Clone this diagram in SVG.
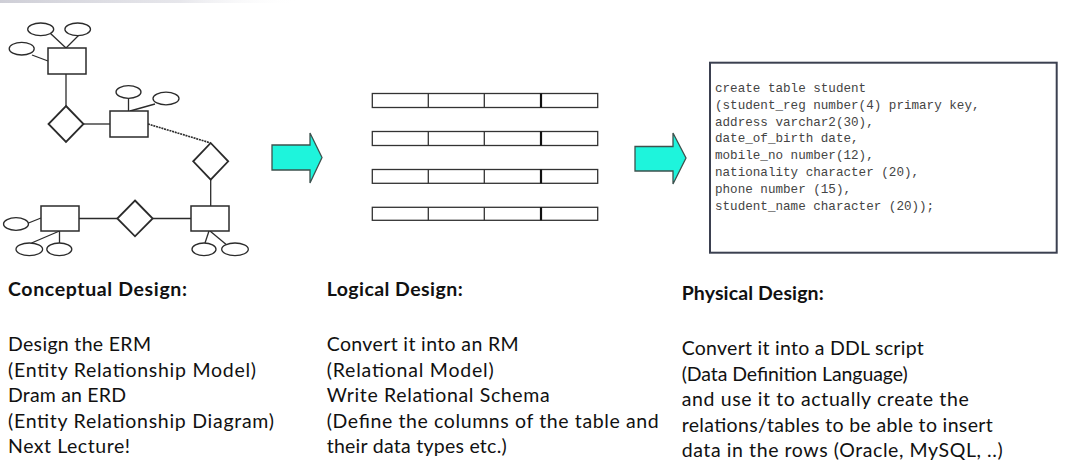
<svg xmlns="http://www.w3.org/2000/svg" width="1080" height="464" viewBox="0 0 1080 464">
<defs>
<linearGradient id="topband" x1="0" y1="0" x2="1" y2="0">
<stop offset="0" stop-color="#c9c9d2" stop-opacity="0.9"/>
<stop offset="0.6" stop-color="#d6d6de" stop-opacity="0.6"/>
<stop offset="1" stop-color="#ffffff" stop-opacity="0"/>
</linearGradient>
</defs>
<style>
.ent{fill:#fff;stroke:#2b2b2b;stroke-width:1.5}
.rel{fill:#fff;stroke:#2b2b2b;stroke-width:1.8}
.att{fill:#fff;stroke:#2b2b2b;stroke-width:1.3}
.ln{stroke:#2b2b2b;stroke-width:1.3;fill:none}
.dash{stroke:#2b2b2b;stroke-width:1.6;stroke-dasharray:2 0.8;fill:none}
.row{fill:#fff;stroke:#333;stroke-width:1.3}
.div{stroke:#333;stroke-width:1.3}
.div2{stroke:#111;stroke-width:2.2}
.arrow{fill:#1ef4dc;stroke:#3d524e;stroke-width:1.3}
.code{font-family:"Liberation Mono","Courier New",monospace;font-size:12.6px;fill:#444}
.head{font-family:Lato,"Liberation Sans",sans-serif;font-size:19.5px;font-weight:bold;fill:#111}
.body{font-family:Lato,"Liberation Sans",sans-serif;font-size:19.5px;fill:#111}
</style>
<rect x="0" y="0" width="1080" height="464" fill="#fff"/>
<rect x="0" y="0" width="300" height="3" fill="url(#topband)"/>

<g id="connectors">
<line class="ln" x1="50" y1="33" x2="66" y2="48"/>
<line class="ln" x1="79" y1="35" x2="66" y2="48"/>
<line class="ln" x1="32" y1="55" x2="48" y2="61"/>
<line class="ln" x1="66" y1="74" x2="66" y2="106"/>
<line class="ln" x1="83.5" y1="124" x2="110" y2="124"/>
<line class="ln" x1="128.5" y1="98.5" x2="128.5" y2="111"/>
<line class="ln" x1="155" y1="104" x2="130" y2="111"/>
<line class="dash" x1="148" y1="124" x2="210.7" y2="143"/>
<line class="ln" x1="210.7" y1="179.7" x2="210.7" y2="206"/>
<line class="ln" x1="191" y1="218.5" x2="152.7" y2="218.5"/>
<line class="ln" x1="117.3" y1="218.5" x2="79" y2="218.5"/>
<line class="ln" x1="28.5" y1="223" x2="41" y2="218"/>
<line class="ln" x1="59.5" y1="231" x2="59.5" y2="243"/>
<line class="ln" x1="59.5" y1="231" x2="31.5" y2="243"/>
<line class="ln" x1="209" y1="231" x2="205" y2="243"/>
<line class="ln" x1="210" y1="231" x2="228" y2="246"/>
</g>

<g id="entity1"><rect class="ent" x="48" y="48" width="38" height="26"/></g>
<g id="entity1-attrs">
<ellipse class="att" cx="40.7" cy="29.3" rx="13" ry="6.3"/>
<ellipse class="att" cx="77.7" cy="29.3" rx="12.8" ry="6.3"/>
<ellipse class="att" cx="21.7" cy="48.7" rx="12.5" ry="6.3"/>
</g>
<g id="rel1"><polygon class="rel" points="66,106 83.5,124 66,142 48.5,124"/></g>
<g id="entity2"><rect class="ent" x="110" y="111" width="38" height="26"/></g>
<g id="entity2-attrs">
<ellipse class="att" cx="128.5" cy="92" rx="12.5" ry="6.3"/>
<ellipse class="att" cx="166" cy="98.5" rx="13" ry="6.3"/>
</g>
<g id="rel2"><polygon class="rel" points="210.7,143 228.2,161.3 210.7,179.7 193.2,161.3"/></g>
<g id="entity3"><rect class="ent" x="191" y="206" width="38" height="25"/></g>
<g id="entity3-attrs">
<ellipse class="att" cx="204" cy="249.3" rx="12" ry="6.3"/>
<ellipse class="att" cx="235" cy="249.3" rx="13.3" ry="6.3"/>
</g>
<g id="rel3"><polygon class="rel" points="135,200.5 152.7,218.5 135,236.3 117.3,218.5"/></g>
<g id="entity4"><rect class="ent" x="41" y="206" width="38" height="25"/></g>
<g id="entity4-attrs">
<ellipse class="att" cx="16" cy="224" rx="12.5" ry="6.3"/>
<ellipse class="att" cx="29.3" cy="249.3" rx="13.3" ry="6.3"/>
<ellipse class="att" cx="59.3" cy="249.3" rx="12.5" ry="6.3"/>
</g>

<g id="arrow1"><polygon class="arrow" points="272,145 310,145 310,133 322,157.5 310,183 310,170 272,170"/></g>

<g id="tables">
<g id="table-row1">
<rect class="row" x="372.3" y="93.5" width="225.4" height="14"/>
<line class="div" x1="428.3" y1="93.5" x2="428.3" y2="107.5"/>
<line class="div" x1="484.3" y1="93.5" x2="484.3" y2="107.5"/>
<line class="div2" x1="541" y1="93.5" x2="541" y2="107.5"/>
</g>
<g id="table-row2">
<rect class="row" x="372.3" y="131.5" width="225.4" height="14"/>
<line class="div" x1="428.3" y1="131.5" x2="428.3" y2="145.5"/>
<line class="div" x1="484.3" y1="131.5" x2="484.3" y2="145.5"/>
<line class="div2" x1="541" y1="131.5" x2="541" y2="145.5"/>
</g>
<g id="table-row3">
<rect class="row" x="372.3" y="169.5" width="225.4" height="13.8"/>
<line class="div" x1="428.3" y1="169.5" x2="428.3" y2="183.3"/>
<line class="div" x1="484.3" y1="169.5" x2="484.3" y2="183.3"/>
<line class="div2" x1="541" y1="169.5" x2="541" y2="183.3"/>
</g>
<g id="table-row4">
<rect class="row" x="372.3" y="207.3" width="225.4" height="13"/>
<line class="div" x1="428.3" y1="207.3" x2="428.3" y2="220.3"/>
<line class="div" x1="484.3" y1="207.3" x2="484.3" y2="220.3"/>
<line class="div2" x1="541" y1="207.3" x2="541" y2="220.3"/>
</g>
</g>

<g id="arrow2"><polygon class="arrow" points="635,146.5 673,146.5 673,133 686,158 673,184 673,171 635,171"/></g>

<g id="ddl-box">
<rect x="710" y="62.7" width="346.7" height="190" fill="#fff" stroke="#3b4050" stroke-width="2"/>
<text class="code" x="715" y="92">create table student</text>
<text class="code" x="715" y="108.8">(student_reg number(4) primary key,</text>
<text class="code" x="715" y="125.6">address varchar2(30),</text>
<text class="code" x="715" y="142.4">date_of_birth date,</text>
<text class="code" x="715" y="159.2">mobile_no number(12),</text>
<text class="code" x="715" y="176">nationality character (20),</text>
<text class="code" x="715" y="192.8">phone number (15),</text>
<text class="code" x="715" y="209.6">student_name character (20));</text>
</g>

<g id="conceptual-text">
<text class="head" x="8" y="296" textLength="179">Conceptual Design:</text>
<text class="body" x="8" y="351" textLength="143">Design the ERM</text>
<text class="body" x="8" y="376.5" textLength="248">(Entity Relationship Model)</text>
<text class="body" x="8" y="402" textLength="118">Dram an ERD</text>
<text class="body" x="8" y="427.5" textLength="266">(Entity Relationship Diagram)</text>
<text class="body" x="8" y="453" textLength="122">Next Lecture!</text>
</g>

<g id="logical-text">
<text class="head" x="326.7" y="296" textLength="136">Logical Design:</text>
<text class="body" x="326.7" y="351" textLength="192">Convert it into an RM</text>
<text class="body" x="326.7" y="376.5" textLength="167">(Relational Model)</text>
<text class="body" x="326.7" y="402" textLength="223">Write Relational Schema</text>
<text class="body" x="326.7" y="427.5" textLength="332">(Define the columns of the table and</text>
<text class="body" x="326.7" y="453" textLength="180">their data types etc.)</text>
</g>

<g id="physical-text">
<text class="head" x="681.7" y="300" textLength="142">Physical Design:</text>
<text class="body" x="681.7" y="355" textLength="242">Convert it into a DDL script</text>
<text class="body" x="681.7" y="380.5" textLength="226">(Data Definition Language)</text>
<text class="body" x="681.7" y="406" textLength="287">and use it to actually create the</text>
<text class="body" x="681.7" y="431.5" textLength="311">relations/tables to be able to insert</text>
<text class="body" x="681.7" y="457" textLength="321">data in the rows (Oracle, MySQL, ..)</text>
</g>
</svg>
